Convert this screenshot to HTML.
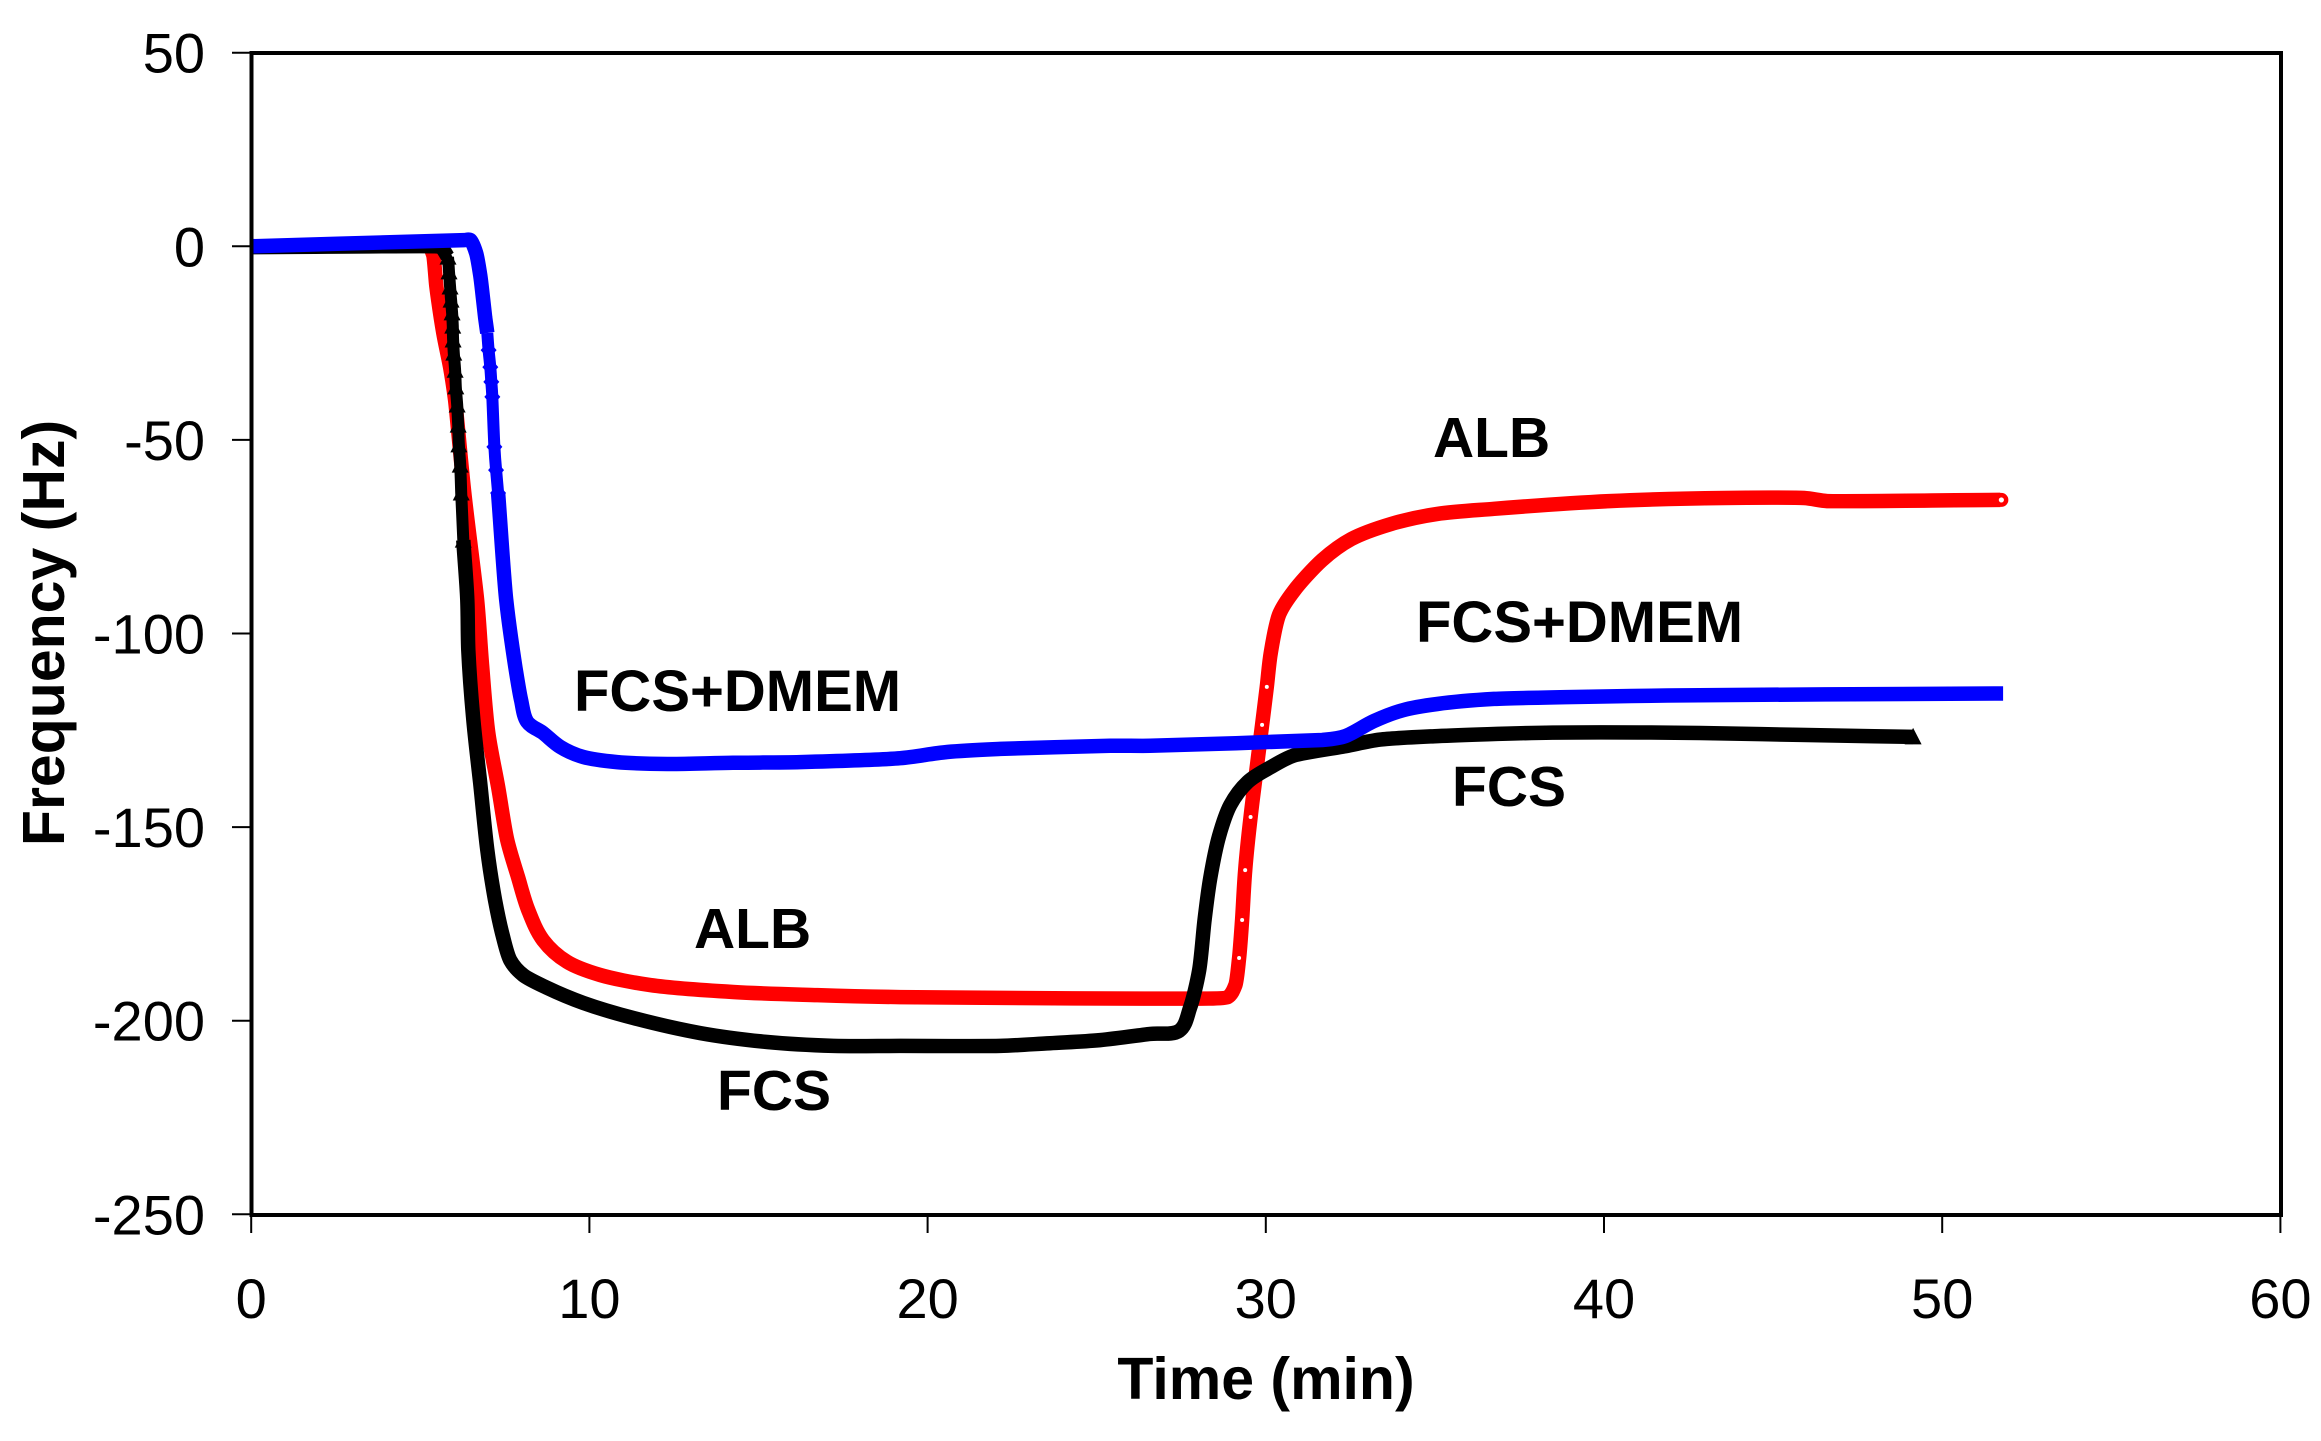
<!DOCTYPE html>
<html>
<head>
<meta charset="utf-8">
<title>Frequency vs Time</title>
<style>
html,body{margin:0;padding:0;background:#fff;width:2321px;height:1441px;overflow:hidden}
svg{display:block}
text{font-family:"Liberation Sans",Arial,sans-serif;fill:#000}
</style>
</head>
<body>
<svg id="chart" xmlns="http://www.w3.org/2000/svg" width="2321" height="1441" viewBox="0 0 2321 1441">
<rect x="0" y="0" width="2321" height="1441" fill="#fff"/>
</svg>
<script>
// Chart data
const xTickLabels = [0, 10, 20, 30, 40, 50, 60];
const yTickLabels = [50, 0, -50, -100, -150, -200, -250];

const albTime = [0,5.23,5.38,5.47,5.53,5.68,5.88,6.03,6.3,6.68,6.83,7.01,7.3,7.57,7.89,8.19,8.63,9.34,10.32,11.8,14.25,16.74,19.19,22.15,26.58,28.87,29.1,29.21,29.3,29.39,29.55,29.72,29.89,30.03,30.15,30.4,30.83,31.67,32.53,33.71,35.07,36.75,40.15,43.55,45.92,46.6,51.72];
const albFreq = [0,0,-2.2,-10,-13.9,-22.4,-31.2,-39.7,-63.7,-91.3,-108.6,-125.7,-139.6,-153.3,-162.9,-171.4,-179.2,-184.8,-188.2,-190.8,-192.6,-193.4,-193.9,-194.1,-194.3,-193.9,-190.8,-183.8,-174,-161.1,-147.4,-135.5,-123.6,-113.8,-104.8,-95,-89,-81,-75.6,-71.7,-69.1,-67.8,-65.8,-65,-65,-65.8,-65.5];

const fcsTime = [0,5.59,5.82,5.85,5.88,5.91,5.94,5.96,5.97,5.99,6.03,6.05,6.09,6.12,6.14,6.18,6.21,6.27,6.39,6.42,6.56,6.77,6.98,7.21,7.42,7.66,8.04,8.75,9.82,11.3,13.28,15.26,17.21,19.19,22.15,23.62,25.1,26.58,27.44,27.76,28.03,28.19,28.36,28.62,28.95,29.47,30.15,30.83,32.35,33.38,35.07,38.47,42.84,45.8,49.14];
const fcsFreq = [-0.2,-0.2,-2.8,-6.6,-10.5,-13.9,-17.2,-20.6,-24.2,-27.6,-32,-36.3,-41,-46.2,-51.3,-56.5,-63.7,-75.9,-91.3,-104.3,-121.6,-138.6,-155.9,-168.8,-177.4,-184.4,-188.2,-191.5,-195.4,-199.3,-203.2,-205.5,-206.5,-206.5,-206.5,-205.8,-205,-203.4,-202.6,-196.7,-186.9,-173.9,-163.1,-152.3,-144.3,-138.3,-134.5,-131.5,-129.1,-127.4,-126.5,-125.6,-125.7,-126.2,-126.7];

const dmemTime = [0,6.3,6.48,6.65,6.77,6.86,6.92,6.98,7.02,7.07,7.1,7.13,7.19,7.24,7.3,7.54,7.81,7.98,8.16,8.63,9.14,9.82,10.82,12.3,14.25,16.23,19.19,20.58,22.15,25.4,26.58,31.67,32.35,33.2,34.05,35.07,36.75,41.87,51.54,51.8];
const dmemFreq = [0,1.6,1.6,-1.7,-7.4,-13.9,-18.5,-22.4,-26.8,-31.2,-35,-38.9,-51.8,-57.8,-63.7,-91.3,-108.6,-117.2,-122.8,-125.7,-129.3,-131.9,-133.2,-133.7,-133.4,-133.2,-132.2,-130.6,-129.8,-129,-129,-127.5,-126.5,-122.6,-119.8,-118.2,-116.9,-116,-115.5,-115.5];

// Axis functions
const svg = document.getElementById('chart');
const NS = 'http://www.w3.org/2000/svg';
const xScale = t => 251.2 + (t - 0) * 33.82;
const yScale = v => 246.3 - v * 3.872;

function make(tag, attrs) {
  const el = document.createElementNS(NS, tag);
  for (const k in attrs) el.setAttribute(k, attrs[k]);
  svg.appendChild(el);
  return el;
}

// Smooth path through the data points; each handle is limited by the shorter adjacent segment
function pathFrom(ts, vs) {
  const px = ts.map(xScale), py = vs.map(yScale);
  const n = px.length;
  const segLen = i => Math.hypot(px[i + 1] - px[i], py[i + 1] - py[i]);
  const unit = (i, j) => {
    const dx = px[j] - px[i], dy = py[j] - py[i], l = Math.hypot(dx, dy) || 1;
    return [dx / l, dy / l];
  };
  const tangent = i => {
    if (i === 0) return unit(0, 1);
    if (i === n - 1) return unit(n - 2, n - 1);
    const a = unit(i - 1, i), b = unit(i, i + 1);
    const tx = a[0] + b[0], ty = a[1] + b[1], l = Math.hypot(tx, ty) || 1;
    return [tx / l, ty / l];
  };
  const handle = i => {
    if (i === 0) return segLen(0) / 3;
    if (i === n - 1) return segLen(n - 2) / 3;
    return Math.min(segLen(i - 1), segLen(i)) / 3;
  };
  let d = 'M' + px[0].toFixed(1) + ' ' + py[0].toFixed(1);
  for (let i = 0; i < n - 1; i++) {
    const t0 = tangent(i), t1 = tangent(i + 1), h0 = handle(i), h1 = handle(i + 1);
    d += ' C' + (px[i] + t0[0] * h0).toFixed(1) + ' ' + (py[i] + t0[1] * h0).toFixed(1) + ' ' +
         (px[i + 1] - t1[0] * h1).toFixed(1) + ' ' + (py[i + 1] - t1[1] * h1).toFixed(1) + ' ' +
         px[i + 1].toFixed(1) + ' ' + py[i + 1].toFixed(1);
  }
  return d;
}

const BAND = 14.5;
const HEAD_BAND = 12;

// Red series (ALB)
const albLine = make('path', {d: pathFrom(albTime, albFreq), fill: 'none', stroke: '#ff0000', 'stroke-width': BAND, 'stroke-linejoin': 'round'});


albTime.forEach((t, i) => {
  const last = i === albTime.length - 1;
  if (last) {
    const ring = make('circle', {cx: xScale(t) + 1, cy: yScale(albFreq[i]), r: 4.8, fill: '#fff', stroke: '#ff0000', 'stroke-width': 4.4});
    
    
  } else if (t > 29.1 && t < 30.1) {
    const dot = make('circle', {cx: xScale(t), cy: yScale(albFreq[i]), r: 2, fill: '#fff'});
    
    
  }
});

// Black series (FCS): triangle markers stand out on the steep head of the drop
const FCS_HEAD_START = 5.8, FCS_HEAD_END = 6.25;
const fcsPre = fcsTime.filter(t => t <= FCS_HEAD_START + 0.03).length;
const fcsPost = fcsTime.findIndex(t => t >= FCS_HEAD_END);
const fcsLineA = make('path', {d: pathFrom(fcsTime.slice(0, fcsPre), fcsFreq.slice(0, fcsPre)), fill: 'none', stroke: '#000', 'stroke-width': BAND, 'stroke-linejoin': 'round'});


const fcsLineB = make('path', {d: pathFrom(fcsTime.slice(fcsPre - 1, fcsPost + 1), fcsFreq.slice(fcsPre - 1, fcsPost + 1)), fill: 'none', stroke: '#000', 'stroke-width': HEAD_BAND, 'stroke-linejoin': 'round'});


const fcsLineC = make('path', {d: pathFrom(fcsTime.slice(fcsPost), fcsFreq.slice(fcsPost)), fill: 'none', stroke: '#000', 'stroke-width': BAND, 'stroke-linejoin': 'round'});


fcsTime.forEach((t, i) => {
  const isLast = i === fcsTime.length - 1;
  if ((t > FCS_HEAD_START && t < FCS_HEAD_END + 0.05) || isLast) {
    const cx = xScale(t), cy = yScale(fcsFreq[i]);
    const tri = make('polygon', {points: [[cx, cy - 9], [cx + 8.5, cy + 7.5], [cx - 8.5, cy + 7.5]].map(p => p.join(',')).join(' '), fill: '#000'});
    
    
  }
});

// Blue series (FCS+DMEM): diamond markers stand out on the steep head of the drop
const DMEM_HEAD_START = 7.0, DMEM_HEAD_END = 7.3;
const dmemPre = dmemTime.filter(t => t <= DMEM_HEAD_START).length;
const dmemPost = dmemTime.findIndex(t => t >= DMEM_HEAD_END);
const dmemLineA = make('path', {d: pathFrom(dmemTime.slice(0, dmemPre), dmemFreq.slice(0, dmemPre)), fill: 'none', stroke: '#0000ff', 'stroke-width': BAND, 'stroke-linejoin': 'round'});


const dmemLineB = make('path', {d: pathFrom(dmemTime.slice(dmemPre - 1, dmemPost + 1), dmemFreq.slice(dmemPre - 1, dmemPost + 1)), fill: 'none', stroke: '#0000ff', 'stroke-width': HEAD_BAND, 'stroke-linejoin': 'round'});


const dmemLineC = make('path', {d: pathFrom(dmemTime.slice(dmemPost), dmemFreq.slice(dmemPost)), fill: 'none', stroke: '#0000ff', 'stroke-width': BAND, 'stroke-linejoin': 'round'});


dmemTime.forEach((t, i) => {
  if (t > DMEM_HEAD_START && t < DMEM_HEAD_END + 0.05) {
    const cx = xScale(t), cy = yScale(dmemFreq[i]);
    const d = make('polygon', {points: [[cx, cy - 9], [cx + 8, cy], [cx, cy + 9], [cx - 8, cy]].map(p => p.join(',')).join(' '), fill: '#0000ff'});
    
    
  }
});

// Plot frame
const frame = make('rect', {x: 251.5, y: 53, width: 2029.5, height: 1162, fill: 'none', stroke: '#000', 'stroke-width': 4});



// Y ticks and labels
yTickLabels.forEach(v => {
  const y = yScale(v);
  const tick = make('line', {x1: 232, x2: 251, y1: y, y2: y, stroke: '#000', 'stroke-width': 2});
  
  
  const label = make('text', {x: 205, y: y + 20, 'text-anchor': 'end', 'font-size': 56});
  
  
  label.textContent = String(v);
});

// X ticks and labels
xTickLabels.forEach(t => {
  const x = xScale(t);
  const tick = make('line', {x1: x, x2: x, y1: 1216, y2: 1233, stroke: '#000', 'stroke-width': 2});
  
  
  const label = make('text', {x: x, y: 1318, 'text-anchor': 'middle', 'font-size': 56});
  
  
  label.textContent = String(t);
});

// Axis titles
const xTitle = make('text', {x: 1266, y: 1399, 'text-anchor': 'middle', 'font-size': 59, 'font-weight': 'bold'});


xTitle.textContent = 'Time (min)';

const yTitle = make('text', {x: 0, y: 0, 'text-anchor': 'middle', 'font-size': 59, 'font-weight': 'bold', transform: 'translate(64 633) rotate(-90)'});


yTitle.textContent = 'Frequency (Hz)';

// Series annotations
const annotationText = ['ALB', 'FCS+DMEM', 'FCS', 'FCS+DMEM', 'ALB', 'FCS'];
const annotationNames = ['alb-upper-label', 'fcs-dmem-upper-label', 'fcs-upper-label', 'fcs-dmem-lower-label', 'alb-lower-label', 'fcs-lower-label'];
const annotationAnchor = [[1433, 457], [1416, 642], [1452, 806], [574, 711], [694, 948], [717, 1110]];
const annotationSize = [57, 58, 57, 58, 57, 57];
annotationText.forEach((s, i) => {
  const a = make('text', {x: annotationAnchor[i][0], y: annotationAnchor[i][1], 'font-size': annotationSize[i], 'font-weight': 'bold'});
  
  
  a.textContent = s;
});
</script>
</body>
</html>
